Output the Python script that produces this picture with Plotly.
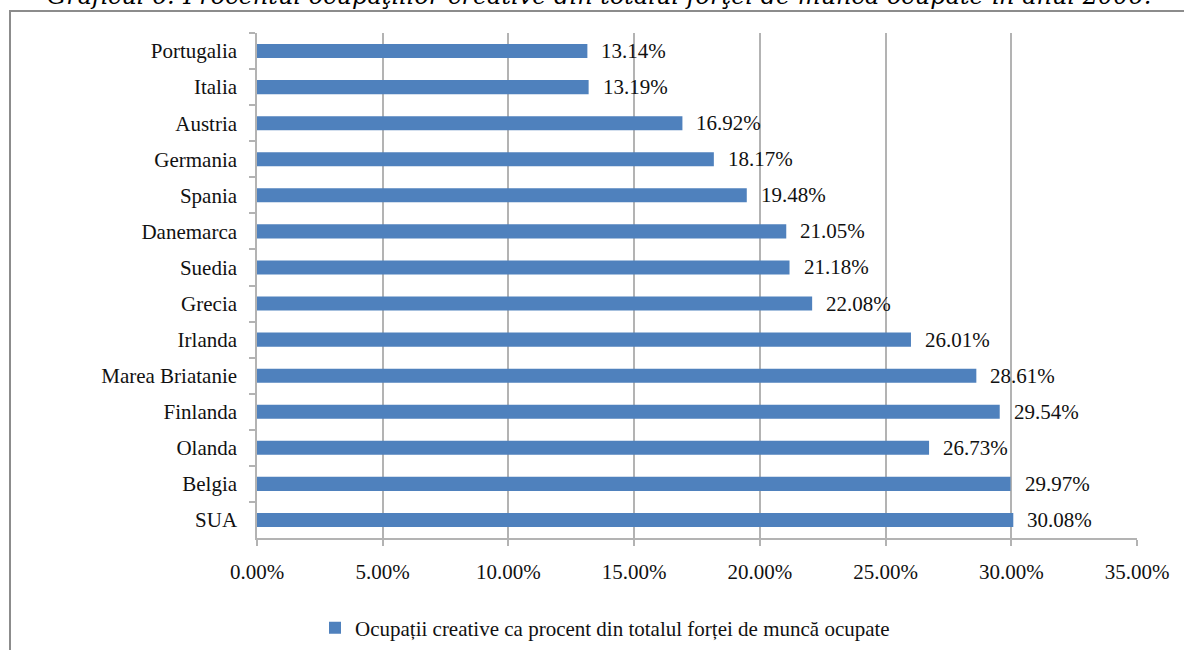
import plotly.graph_objects as go

# Share of creative occupations in total employment, 2006 (percent)
countries = ["Portugalia", "Italia", "Austria", "Germania", "Spania", "Danemarca",
             "Suedia", "Grecia", "Irlanda", "Marea Briatanie", "Finlanda", "Olanda",
             "Belgia", "SUA"]
values = [13.14, 13.19, 16.92, 18.17, 19.48, 21.05, 21.18, 22.08, 26.01, 28.61,
          29.54, 26.73, 29.97, 30.08]
x_ticks = [0, 5, 10, 15, 20, 25, 30, 35]
series_name = "Ocupații creative ca procent din totalul forței de muncă ocupate"
title_text = ("Graficul 6: Procentul ocupaţiilor creative din totalul forţei de muncă "
              "ocupate în anul 2006.")

BAR = "#4F81BD"
GRID = "#B3B3B3"
SERIF = "Liberation Serif, Times New Roman, serif"
FS = 21

W, H = 1184, 650
L, R, T, B = 257, 47, 33, 112
pw, ph = W - L - R, H - T - B


def px_x(p):
    return (p - L) / pw


def px_y(p):
    return (H - B - p) / ph


fig = go.Figure()
fig.add_trace(go.Bar(
    x=values, y=countries, orientation="h",
    marker=dict(color=BAR, line=dict(width=0)),
    width=0.39, name=series_name, showlegend=True,
))

# value labels to the right of each bar
for c, v in zip(countries, values):
    fig.add_annotation(x=v, y=c, text=f"{v:.2f}%", showarrow=False,
                       xanchor="left", yanchor="middle", xshift=12,
                       font=dict(family=SERIF, size=FS, color="#111111"))

# chart title, running off the top edge of the page
fig.add_annotation(xref="paper", yref="paper", x=px_x(599), y=px_y(-4),
                   text=title_text, showarrow=False, xanchor="center",
                   yanchor="middle",
                   font=dict(family="DejaVu Serif, serif", size=24,
                             color="#000000", style="italic"))

# outer chart frame
fig.add_shape(type="rect", xref="paper", yref="paper",
              x0=px_x(10), x1=px_x(1195), y0=px_y(665), y1=px_y(11),
              line=dict(color="#8C8C8C", width=2), fillcolor="rgba(0,0,0,0)",
              layer="below")

fig.update_layout(
    width=W, height=H,
    margin=dict(l=L, r=R, t=T, b=B, pad=0, autoexpand=False),
    paper_bgcolor="white", plot_bgcolor="white",
    font=dict(family=SERIF, size=FS, color="#111111"),
    xaxis=dict(range=[0, 35], tickvals=x_ticks,
               ticktext=[f"{t:.2f}%" for t in x_ticks],
               showgrid=True, gridcolor=GRID, gridwidth=1.5,
               showline=True, linecolor=GRID, linewidth=1.5,
               ticks="outside", ticklen=6, tickcolor=GRID, tickwidth=1.5,
               zeroline=False, fixedrange=True, ticklabelstandoff=8,
               tickfont=dict(family=SERIF, size=FS, color="#111111")),
    yaxis=dict(type="category", autorange="reversed",
               showline=True, linecolor=GRID, linewidth=1.5,
               ticks="outside", ticklen=6, tickcolor=GRID, tickwidth=1.5,
               tickson="boundaries", showgrid=False, ticklabelstandoff=14,
               tickfont=dict(family=SERIF, size=FS, color="#111111")),
    legend=dict(orientation="h", x=px_x(605), y=px_y(628), xanchor="center",
                yanchor="middle", bgcolor="rgba(0,0,0,0)",
                font=dict(family=SERIF, size=FS, color="#111111"),
                itemwidth=30),
    showlegend=True,
)

fig.write_html("out.html")
